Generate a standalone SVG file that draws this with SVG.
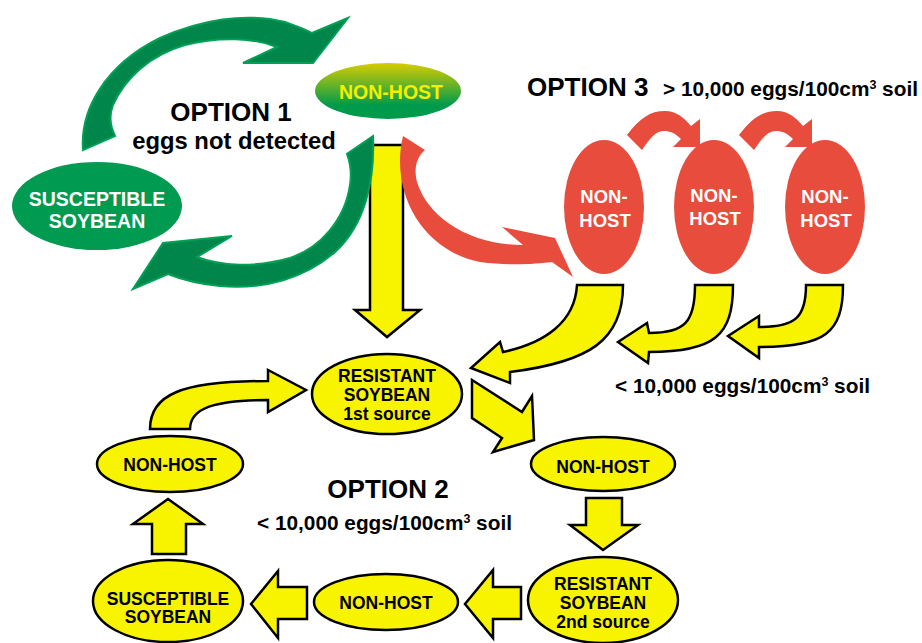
<svg xmlns="http://www.w3.org/2000/svg" width="922" height="643" viewBox="0 0 922 643">
<defs>
<linearGradient id="gNH" x1="0" y1="0" x2="0" y2="1">
<stop offset="0" stop-color="#d8cc00"/>
<stop offset="0.55" stop-color="#3aa838"/>
<stop offset="0.75" stop-color="#009a4c"/>
<stop offset="1" stop-color="#009a4c"/>
</linearGradient>
<style>
text{font-family:"Liberation Sans",Arial,sans-serif;font-weight:bold;text-anchor:middle}
.yel{fill:#f8f400;stroke:#000;stroke-width:2.5;stroke-linejoin:miter}
.grn{fill:#00854a;stroke:#00a055;stroke-width:2}
.red{fill:#e74c3c}
.t17{font-size:17.5px;fill:#000}
.big{font-size:26px;fill:#000}
.mid{font-size:20.8px;fill:#000;text-anchor:start}
.wt{fill:#fff}
</style>
</defs>
<rect width="922" height="643" fill="#fff"/>
<g id="connectors">
<path class="grn" d="M83,150 C80,110 105,65 160,38 C200,20 245,12 285,22 C296,26 305,29 312,33 L348,18 L313,63 L243,63 L277,47 C255,38 220,36 185,45 C150,55 125,78 113,105 C108,118 111,128 115,136 Z"/>
<path class="yel" d="M370,145 L403,145 L403,310 L420,310 L387,337 L355,310 L370,310 Z"/>
<path class="grn" d="M373,136 C375,180 365,225 335,252 C305,278 265,290 220,286 C200,284 183,280 168,274 L133,289 L163,243 L232,236 L197,257 C220,266 255,268 290,258 C320,248 345,220 350,185 C352,172 350,162 347,154 Z"/>
<path class="red" d="M403,136 C390,190 420,250 480,262 C510,266 535,264 552,262 L573,277 L555,238 L502,227 L523,245 C470,245 428,218 417,182 C413,166 418,156 425,150 Z"/>
<path id="ra1" class="red" d="M627,135 C640,118 650,111 665,111 C677,111 684,118 691,126 L700,119 L700,147 L673,147 L681,139 C675,133 670,131 664,131 C656,131 650,138 642,150 Z"/>
<use href="#ra1" transform="translate(112,0)"/>
<path class="yel" d="M577,285 L623,285 C623,340 590,362 510,372 L510,383 L471,368 L500,342 L503,352 C545,343 575,322 577,285 Z"/>
<path class="yel" d="M695,285 L733,285 C733,335 715,352 649,352 L648,363 L618,342 L647,323 L649,333 C685,333 695,322 695,285 Z"/>
<path class="yel" d="M806,285 L843,285 C843,333 825,347 759,347 L759,358 L728,336 L759,316 L759,327 C795,327 806,318 806,285 Z"/>
<path class="yel" d="M150,429 C150,395 180,381 268,381 L268,370 L306,390 L268,412 L268,400 C215,400 190,408 190,429 Z"/>
<path class="yel" d="M472,380 L522,412 L532,396 L534,440 L493,452 L502,438 L472,418 Z"/>
<path class="yel" d="M586,498 L622,498 L622,525 L638,525 L603,550 L570,525 L586,525 Z"/>
<path class="yel" d="M521,587 L493,587 L493,570 L465,604 L493,638 L493,619 L521,619 Z"/>
<path class="yel" d="M307,587 L278,587 L278,571 L251,604 L278,638 L278,619 L307,619 Z"/>
<path class="yel" d="M152,554 L152,524 L133,524 L168,499 L203,524 L186,524 L186,554 Z"/>
</g>
<g id="labels">
<text class="big" x="231" y="121">OPTION 1</text>
<text x="234" y="149" style="font-size:23.8px;fill:#000">eggs not detected</text>
<text class="big" x="527" y="96" style="text-anchor:start">OPTION 3</text>
<text class="mid" x="663" y="96">&gt; 10,000 eggs/100cm<tspan font-size="12.5" dy="-7">3</tspan><tspan dy="7"> soil</tspan></text>
<text class="mid" x="615" y="393">&lt; 10,000 eggs/100cm<tspan font-size="12.5" dy="-7">3</tspan><tspan dy="7"> soil</tspan></text>
<text class="big" x="388" y="498">OPTION 2</text>
<text class="mid" x="257" y="530">&lt; 10,000 eggs/100cm<tspan font-size="12.5" dy="-7">3</tspan><tspan dy="7"> soil</tspan></text>
</g>
<g id="n-susc-green">
<ellipse cx="97" cy="206" rx="85" ry="44" fill="#009a50"/>
<text class="wt" x="97" y="206" font-size="19.5">SUSCEPTIBLE</text>
<text class="wt" x="97" y="228" font-size="19.5">SOYBEAN</text>
</g>
<g id="n-nonhost-green">
<ellipse cx="388" cy="91" rx="73" ry="28" fill="url(#gNH)"/>
<text x="391" y="99" font-size="19.5" fill="#f5f000">NON-HOST</text>
</g>
<g id="n-red1">
<ellipse cx="604" cy="207" rx="40" ry="67" class="red"/>
<text class="wt" x="604" y="203" font-size="18.5">NON-</text>
<text class="wt" x="605" y="227" font-size="18.5">HOST</text>
</g>
<g id="n-red2">
<ellipse cx="714" cy="207" rx="40" ry="67" class="red"/>
<text class="wt" x="714" y="202" font-size="18.5">NON-</text>
<text class="wt" x="715" y="225" font-size="18.5">HOST</text>
</g>
<g id="n-red3">
<ellipse cx="825" cy="207" rx="40" ry="67" class="red"/>
<text class="wt" x="825" y="203" font-size="18.5">NON-</text>
<text class="wt" x="826" y="227" font-size="18.5">HOST</text>
</g>
<g id="n-res1">
<ellipse cx="387" cy="394" rx="75" ry="40" class="yel"/>
<text class="t17" x="387" y="382">RESISTANT</text>
<text class="t17" x="387" y="401">SOYBEAN</text>
<text class="t17" x="387" y="420">1st source</text>
</g>
<g id="n-nonhost-right">
<ellipse cx="603" cy="464" rx="72" ry="27" class="yel"/>
<text class="t17" x="603" y="473">NON-HOST</text>
</g>
<g id="n-res2">
<ellipse cx="603" cy="600" rx="75" ry="43" class="yel"/>
<text class="t17" x="603" y="590">RESISTANT</text>
<text class="t17" x="603" y="609">SOYBEAN</text>
<text class="t17" x="603" y="628">2nd source</text>
</g>
<g id="n-nonhost-bottom">
<ellipse cx="386" cy="602" rx="72" ry="28" class="yel"/>
<text class="t17" x="386" y="609">NON-HOST</text>
</g>
<g id="n-susc-yellow">
<ellipse cx="168" cy="601" rx="75" ry="41" class="yel"/>
<text class="t17" x="168" y="605">SUSCEPTIBLE</text>
<text class="t17" x="168" y="623">SOYBEAN</text>
</g>
<g id="n-nonhost-left">
<ellipse cx="170" cy="464" rx="73" ry="28" class="yel"/>
<text class="t17" x="170" y="471">NON-HOST</text>
</g>
</svg>
